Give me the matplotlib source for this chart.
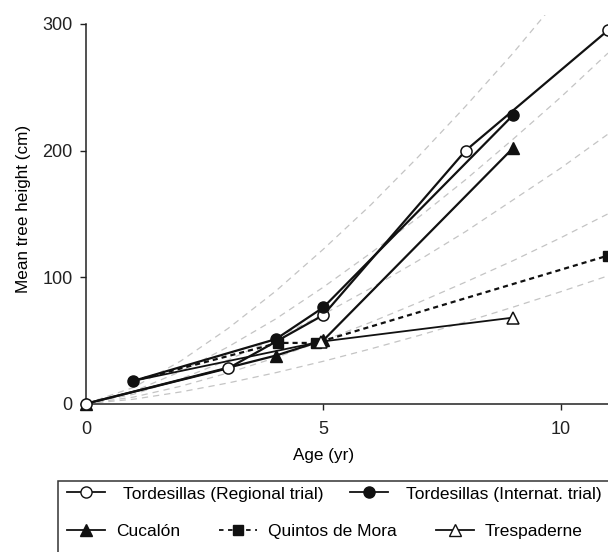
import matplotlib
matplotlib.use("Agg")
import matplotlib.pyplot as plt
from matplotlib.lines import Line2D
from matplotlib.patches import Rectangle

# ---- data ----
reg_age = [0, 3, 5, 8, 11]
reg_h = [0, 28, 70, 200, 295]

int_age = [1, 4, 5, 9]
int_h = [18, 51, 76, 228]

cuc_age = [0, 4, 5, 9]
cuc_h = [0, 38, 50, 202]

qui_age = [1, 4.05, 4.85, 11]
qui_h = [18, 48, 48, 117]

tre_age = [1, 4.95, 9]
tre_h = [18, 49, 68]

# grey dashed reference curves, read at ages 0..11
ref_age = [0, 1, 2, 3, 4, 5, 6, 7, 8, 9, 10, 11]
ref_c1 = [0, 12.8, 33.8, 59.6, 89, 122, 157, 195, 235, 277, 322, 367]
ref_c2 = [0, 9.7, 25.5, 45, 67, 92, 119, 147, 177, 209, 242, 277]
ref_c3 = [0, 7.4, 19.6, 34.6, 51.6, 70.6, 91.2, 113, 136, 161, 186, 213]
ref_c4 = [0, 5.2, 13.8, 24.4, 36.4, 49.8, 64.3, 79.8, 96.1, 113, 131, 150]
ref_c5 = [0, 3.5, 9.3, 16.4, 24.5, 33.5, 43.3, 53.7, 64.7, 76.3, 88.4, 101]

x_ticks = [0, 5, 10]
y_ticks = [0, 100, 200, 300]

plt.rcParams['font.family'] = ['Liberation Sans', 'DejaVu Sans']

fig = plt.figure(figsize=(6.08, 5.52), dpi=100)
ax = fig.add_axes([0.1414, 0.2687, 0.8586, 0.7039])

grey = '#c4c4c4'
for c in [ref_c1, ref_c2, ref_c3, ref_c4, ref_c5]:
    ax.plot(ref_age, c, color=grey, lw=0.9, ls=(0, (5, 4)), zorder=1)

k = '#111111'
lw = 1.6
ms = 8
ax.plot(reg_age, reg_h, color=k, lw=lw, marker='o', ms=ms, mfc='white', mec=k, mew=1.1, zorder=5, clip_on=False)
ax.plot(int_age, int_h, color=k, lw=lw, marker='o', ms=ms, mfc=k, mec=k, zorder=6, clip_on=False)
ax.plot(cuc_age, cuc_h, color=k, lw=lw, marker='^', ms=ms, mfc=k, mec=k, zorder=3, clip_on=False)
ax.plot(qui_age, qui_h, color=k, lw=lw, ls=(0, (2.3, 1.8)), marker='s', ms=7.5, mfc=k, mec=k,
        markevery=[1, 2, 3], zorder=3, clip_on=False)
ax.plot(tre_age, tre_h, color=k, lw=1.3, marker='^', ms=ms, mfc='white', mec=k, mew=1.1,
        markevery=[1, 2], zorder=4, clip_on=False)

ax.set_xlim(0, 11)
ax.set_ylim(0, 307)
ax.spines['top'].set_visible(False)
ax.spines['right'].set_visible(False)
ax.spines['left'].set_bounds(0, 300)
for s in ['left', 'bottom']:
    ax.spines[s].set_linewidth(1.1)
    ax.spines[s].set_color('#222222')
ax.set_xticks(x_ticks)
ax.set_yticks(y_ticks)
ax.tick_params(axis='both', direction='out', length=4.5, width=1, colors='#222222', labelsize=13)
ax.tick_params(axis='x', pad=8)
ax.tick_params(axis='y', pad=5)
ax.set_xlabel('Age (yr)', fontsize=12.3, labelpad=7)
ax.xaxis.label.set_x(5 / 11)
ax.set_ylabel('Mean tree height (cm)', fontsize=12.3, labelpad=8)

# legend frame
fig.patches.append(Rectangle((58 / 608, -0.02), 0.95, (552 - 480.5) / 552 + 0.02,
                             transform=fig.transFigure, fill=False, ec='#333333', lw=1.1))

h_reg = Line2D([], [], color=k, lw=1.3, marker='o', ms=ms, mfc='white', mec=k)
h_int = Line2D([], [], color=k, lw=1.3, marker='o', ms=ms, mfc=k, mec=k)
h_cuc = Line2D([], [], color=k, lw=1.3, marker='^', ms=ms, mfc=k, mec=k)
h_qui = Line2D([], [], color=k, lw=1.3, ls=(0, (2.5, 2.5)), marker='s', ms=7.5, mfc=k, mec=k)
h_tre = Line2D([], [], color=k, lw=1.3, marker='^', ms=ms, mfc='white', mec=k)

fs = 12.5
leg1 = fig.legend([h_reg, h_int], ['Tordesillas (Regional trial)', 'Tordesillas (Internat. trial)'],
                  ncol=2, frameon=False, fontsize=fs, handlelength=2.19, handletextpad=1.04,
                  columnspacing=1.5, loc='center left', bbox_to_anchor=(67 / 608, 1 - 494 / 552),
                  borderpad=0, borderaxespad=0)
leg2 = fig.legend([h_cuc, h_qui, h_tre], ['Cucalón', 'Quintos de Mora', 'Trespaderne'],
                  ncol=3, frameon=False, fontsize=fs, handlelength=2.19, handletextpad=0.63,
                  columnspacing=2.25, loc='center left', bbox_to_anchor=(67 / 608, 1 - 531 / 552),
                  borderpad=0, borderaxespad=0)

fig.savefig('out.png', dpi=100)
